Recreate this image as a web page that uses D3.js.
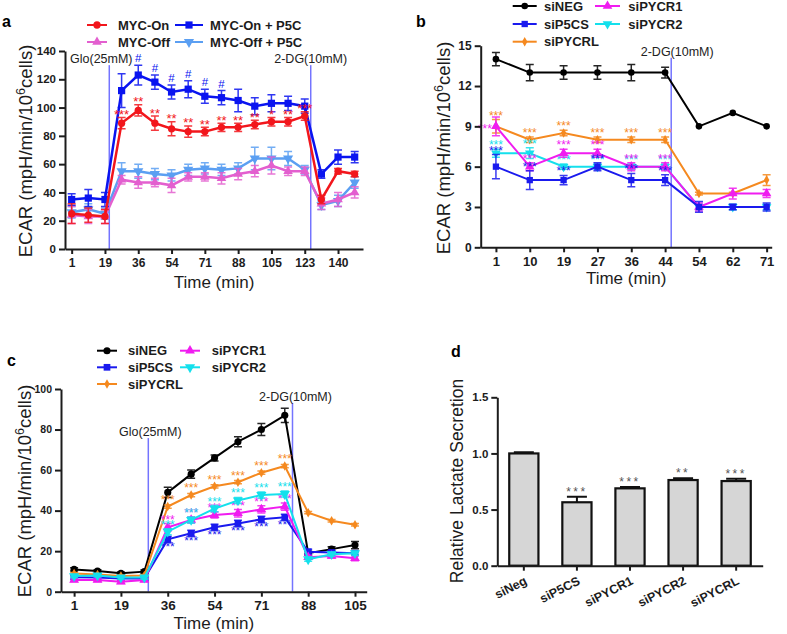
<!DOCTYPE html>
<html>
<head>
<meta charset="utf-8">
<script src="https://cdn.jsdelivr.net/npm/d3@7"></script>
<style>
  body { margin: 0; background: #fff; }
  svg { display: block; font-family: "Liberation Sans", Arial, sans-serif; }
</style>
</head>
<body>
<svg id="fig" width="787" height="634"></svg>
<script>
// ---------------- data ----------------
// panel a : ECAR, MYC on/off +/- P5C (18 time points)
var aTimeLabels = ["1", "19", "36", "54", "71", "88", "105", "123", "140"];
var aMycOn      = [25, 24, 23, 89, 98, 89, 85, 83, 83, 86, 86, 88, 90, 90, 94, 35, 55, 53];
var aMycOnErr   = [7, 5, 5, 4, 4, 5, 5, 4, 3, 3, 3, 3, 3, 3, 3, 3, 2, 2];
var aMycOnP5C   = [35, 36, 35, 112, 123, 118, 111, 113, 108, 107, 105, 101, 103, 103, 101, 53, 65, 65];
var aMycOnP5CErr= [4, 6, 5, 12, 7, 5, 5, 6, 5, 5, 8, 6, 6, 5, 5, 3, 5, 4];
var aMycOff     = [24, 23, 23, 49, 47, 47, 45, 51, 51, 50, 53, 55, 59, 55, 55, 32, 35, 40];
var aMycOffErr  = [6, 5, 5, 3, 4, 3, 5, 3, 3, 4, 4, 4, 6, 3, 3, 4, 5, 4];
var aMycOffP5C  = [26, 28, 25, 55, 55, 53, 52, 56, 57, 56, 57, 64, 64, 64, 56, 31, 34, 47];
var aMycOffP5CErr=[4, 4, 4, 6, 5, 4, 4, 4, 4, 4, 4, 8, 8, 5, 3, 3, 4, 4];
var aOnStars    = ["", "", "", "***", "**", "**", "**", "**", "**", "**", "**", "**", "*", "**", "***", "", "", ""];
var aP5CMarks   = ["", "", "", "", "#", "#", "#", "#", "#", "#", "", "", "", "", "", "", "", ""];
var aYTicks     = [0, 20, 40, 60, 80, 100, 120, 140];

// panel b : ECAR after knock-down (9 time points)
var bTimeLabels = ["1", "10", "19", "27", "36", "44", "54", "62", "71"];
var bSiNEG      = [14, 13, 13, 13, 13, 13, 9, 10, 9];
var bSiNEGErr   = [0.5, 0.6, 0.5, 0.5, 0.6, 0.4, 0, 0, 0];
var bSiP5CS     = [6, 5, 5, 6, 5, 5, 3, 3, 3];
var bSiP5CSErr  = [0.9, 0.7, 0.35, 0.3, 0.5, 0.4, 0.4, 0.2, 0.3];
var bSiPYCR1    = [9, 6, 7, 7, 6, 6, 3, 4, 4];
var bSiPYCR1Err = [0.7, 0.3, 0.3, 0.3, 0.3, 0.3, 0.3, 0.4, 0.3];
var bSiPYCR2    = [7, 7, 6, 6, 6, 6, 3, 3, 3];
var bSiPYCR2Err = [0.3, 0.4, 0.2, 0.2, 0.2, 0.2, 0.2, 0.2, 0.2];
var bSiPYCRL    = [9, 8, 8.5, 8, 8, 8, 4, 4, 5];
var bSiPYCRLErr = [0.5, 0.2, 0.2, 0.2, 0.2, 0.2, 0.1, 0.1, 0.4];
var bStars      = ["***", "***", "***", "***", "***", "***", "", "", ""];
var bYTicks     = [0, 3, 6, 9, 12, 15];

// panel c : ECAR with glucose then 2-DG (13 time points)
var cTimeLabels = ["1", "19", "36", "54", "71", "88", "105"];
var cSiNEG      = [11, 10.2, 9.1, 9.9, 49, 58, 66, 74, 80, 87, 19, 21, 23];
var cSiNEGErr   = [0.8, 0.6, 0.6, 0.8, 2.5, 2, 1.5, 2.5, 3, 3.5, 1, 1.2, 1.8];
var cSiP5CS     = [7.1, 7, 6.5, 6.5, 25.8, 28.8, 31.8, 33.7, 35.7, 36.7, 19.7, 19.3, 19];
var cSiP5CSErr  = [0.8, 0.8, 0.8, 0.8, 1.5, 1.5, 1.5, 1.5, 1.5, 1.5, 1.2, 1, 1];
var cSiPYCR1    = [5.8, 5.8, 4.9, 5.8, 31.8, 35.4, 37.8, 38.7, 40.6, 42, 17, 17.6, 16.5];
var cSiPYCR1Err = [0.8, 0.8, 0.8, 0.8, 1.8, 1.5, 1.5, 1.8, 1.8, 1.8, 1, 1, 1.2];
var cSiPYCR2    = [7.7, 8, 7, 7, 29.6, 35.4, 41, 45, 47.7, 48.2, 16, 18.5, 19];
var cSiPYCR2Err = [0.8, 0.8, 0.8, 0.8, 1.5, 1.5, 1.5, 1.5, 1.5, 1.5, 1, 1, 1];
var cSiPYCRL    = [9, 8.5, 7.8, 8, 42, 47.7, 52, 54, 58.7, 62, 39, 35, 33];
var cSiPYCRLErr = [0.5, 0.5, 0.5, 0.5, 0.8, 0.8, 0.8, 0.8, 0.8, 0.8, 0.6, 0.6, 0.6];
var cStars      = ["", "", "", "", "***", "***", "***", "***", "***", "***", "", "", ""];
var cYTicks     = [0, 20, 40, 60, 80, 100];

// panel d : relative lactate secretion
var dGroups = ["siNeg", "siP5CS", "siPYCR1", "siPYCR2", "siPYCRL"];
var dValues = [1.0, 0.565, 0.689, 0.763, 0.754];
var dErr    = [0.01, 0.05, 0.012, 0.015, 0.02];
var dStars  = ["", "***", "***", "**", "***"];
var dYTicks = [0, 0.5, 1.0, 1.5];

// ---------------- helpers ----------------
var svg = d3.select("#fig");
var INK = "#1c1c1c";
var VLINE = "#7474ff";

var shapes = {
  circle: d3.symbolCircle,
  square: d3.symbolSquare,
  triangle: d3.symbolTriangle,
  down: d3.symbolTriangle,
  diamond: d3.symbolDiamond
};

function marker(g, shape, size, color, cx, cy) {
  g.append("path")
    .attr("d", d3.symbol().type(shapes[shape]).size(size)())
    .attr("transform", "translate(" + cx + "," + cy + ")" + (shape == "down" ? " rotate(180)" : ""))
    .attr("fill", color);
}

function styleAxis(sel, fs) {
  sel.select(".domain").attr("stroke", INK).attr("stroke-width", 2);
  sel.selectAll(".tick line").attr("stroke", INK).attr("stroke-width", 2);
  sel.selectAll(".tick text")
    .attr("fill", INK)
    .style("font-size", fs + "px")
    .style("font-weight", "bold")
    .style("font-family", '"Liberation Sans", Arial, sans-serif');
}

function ecarLabel(g, x, y, fs) {
  var t = g.append("text")
    .attr("transform", "translate(" + x + "," + y + ") rotate(-90)")
    .attr("text-anchor", "middle")
    .attr("fill", INK)
    .style("font-size", fs + "px");
  t.append("tspan").text("ECAR (mpH/min/10");
  t.append("tspan").attr("dy", -fs * 0.4).style("font-size", (fs * 0.68) + "px").text("6");
  t.append("tspan").attr("dy", fs * 0.4).text("cells)");
}

function legendItem(g, x1, x2, y, color, shape, size, label, tx) {
  g.append("line").attr("x1", x1).attr("x2", x2).attr("y1", y).attr("y2", y)
    .attr("stroke", color).attr("stroke-width", 2);
  marker(g, shape, size, color, (x1 + x2) / 2, y);
  g.append("text").attr("x", tx).attr("y", y).attr("dy", "0.36em")
    .attr("fill", INK)
    .style("font-size", "13px").style("font-weight", "bold")
    .text(label);
}

function panelLetter(x, y, s) {
  svg.append("text").attr("x", x).attr("y", y)
    .attr("fill", "#000")
    .style("font-size", "16px").style("font-weight", "bold")
    .text(s);
}

// generic line panel with error bars
function linePanel(p) {
  var g = svg.append("g");
  var x = d3.scaleLinear().domain(p.xDomain).range([p.left, p.right]);
  var y = d3.scaleLinear().domain(p.yDomain).range([p.bottom, p.top]);

  // treatment lines
  p.vlines.forEach(function(v) {
    g.append("line")
      .attr("x1", x(v.at)).attr("x2", x(v.at))
      .attr("y1", y(0)).attr("y2", y(v.top))
      .attr("stroke", VLINE).attr("stroke-width", 1.5);
    g.append("text")
      .attr("x", x(v.at) + v.dx).attr("y", y(v.top) - 2)
      .attr("text-anchor", "middle")
      .attr("fill", "#222")
      .style("font-size", "12.5px")
      .text(v.label);
  });

  // series
  p.series.forEach(function(s) {
    var idx = d3.range(s.values.length);
    var line = d3.line().x(function(i) { return x(i); }).y(function(i) { return y(s.values[i]); });
    g.append("path").datum(idx)
      .attr("d", line)
      .attr("fill", "none")
      .attr("stroke", s.color)
      .attr("stroke-width", p.lineWidth);

    idx.forEach(function(i) {
      var e = s.errs[i];
      if (e > 0) {
        var y1 = y(s.values[i] - e), y2 = y(s.values[i] + e);
        g.append("path")
          .attr("d", "M" + x(i) + "," + y1 + "V" + y2 +
                     "M" + (x(i) - 4) + "," + y1 + "H" + (x(i) + 4) +
                     "M" + (x(i) - 4) + "," + y2 + "H" + (x(i) + 4))
          .attr("stroke", s.color).attr("stroke-width", 1.5).attr("fill", "none")
          .attr("opacity", 0.85);
      }
      marker(g, s.shape, s.size, s.color, x(i), y(s.values[i]));
    });

    if (s.stars) {
      idx.forEach(function(i) {
        if (!s.stars[i]) return;
        var tx = x(i), ty;
        var anchor = "middle";
        if (s.starPos == "below") {
          ty = y(s.values[i] - s.errs[i]) + s.starSize * 0.75;
        } else if (s.starPos == "left" && i == 0) {
          tx = x(i) - 4; ty = y(s.values[i]) + s.starSize * 0.55; anchor = "end";
        } else {
          ty = y(s.values[i] + s.errs[i]) - (s.starGap || 0);
        }
        g.append("text")
          .attr("x", tx).attr("y", ty)
          .attr("text-anchor", anchor)
          .attr("fill", s.starColor || s.color)
          .style("font-size", s.starSize + "px")
          .text(s.stars[i]);
      });
    }
  });

  // axes
  var yAxis = d3.axisLeft(y).tickValues(p.yTicks).tickSize(6).tickSizeOuter(0).tickPadding(3);
  var ya = g.append("g").attr("transform", "translate(" + p.left + ",0)").call(yAxis);
  styleAxis(ya, p.yTickSize);

  var xTickIdx = p.xLabels.map(function(d, i) { return i * p.tickEvery; });
  var xAxis = d3.axisBottom(x).tickValues(xTickIdx)
    .tickFormat(function(d, i) { return p.xLabels[i]; })
    .tickSize(5).tickSizeOuter(0).tickPadding(4);
  var xa = g.append("g").attr("transform", "translate(0," + p.bottom + ")").call(xAxis);
  styleAxis(xa, p.xTickSize);

  g.append("text")
    .attr("x", (p.left + p.right) / 2).attr("y", p.xLabelY)
    .attr("text-anchor", "middle").attr("fill", INK)
    .style("font-size", "17px")
    .text("Time (min)");
  ecarLabel(g, p.yLabelX, p.yLabelY, 18.5);
  return g;
}

// ---------------- panel a ----------------
var ga = linePanel({
  left: 65, right: 363, top: 51, bottom: 249,
  xDomain: [-0.4, 17.5], yDomain: [0, 140],
  yTicks: aYTicks, yTickSize: 11.5,
  xLabels: aTimeLabels, tickEvery: 2, xTickSize: 12,
  lineWidth: 2.5,
  xLabelY: 288, yLabelX: 32, yLabelY: 151,
  vlines: [
    {at: 2.26, top: 130, label: "Glo(25mM)", dx: -8},
    {at: 14.36, top: 130, label: "2-DG(10mM)", dx: 0}
  ],
  series: [
    {values: aMycOffP5C, errs: aMycOffP5CErr, color: "#5b9ff2", shape: "down", size: 45},
    {values: aMycOff, errs: aMycOffErr, color: "#e35fcf", shape: "triangle", size: 40},
    {values: aMycOnP5C, errs: aMycOnP5CErr, color: "#0a14f0", shape: "square", size: 52,
     stars: aP5CMarks, starSize: 11.5, starGap: 3},
    {values: aMycOn, errs: aMycOnErr, color: "#f2161c", shape: "circle", size: 42,
     stars: aOnStars, starSize: 13, starGap: -1.5}
  ]
});
panelLetter(2, 27, "a");
legendItem(svg, 87, 107, 25, "#f2161c", "circle", 42, "MYC-On", 118);
legendItem(svg, 175, 203, 25, "#0a14f0", "square", 52, "MYC-On + P5C", 210);
legendItem(svg, 87, 107, 42, "#e35fcf", "triangle", 40, "MYC-Off", 118);
legendItem(svg, 175, 203, 42, "#5b9ff2", "down", 45, "MYC-Off + P5C", 210);

// ---------------- panel b ----------------
linePanel({
  left: 480.7, right: 771.7, top: 45.7, bottom: 247.3,
  xDomain: [-0.45, 8.15], yDomain: [0, 15],
  yTicks: bYTicks, yTickSize: 12,
  xLabels: bTimeLabels, tickEvery: 1, xTickSize: 13,
  lineWidth: 2,
  xLabelY: 283.5, yLabelX: 450, yLabelY: 148,
  vlines: [
    {at: 5.18, top: 14.1, label: "2-DG(10mM)", dx: 6}
  ],
  series: [
    {values: bSiNEG, errs: bSiNEGErr, color: "#000000", shape: "circle", size: 34},
    {values: bSiPYCRL, errs: bSiPYCRLErr, color: "#f5891f", shape: "diamond", size: 26,
     stars: bStars, starSize: 12, starGap: 0},
    {values: bSiPYCR2, errs: bSiPYCR2Err, color: "#14e0ec", shape: "down", size: 40,
     stars: bStars, starSize: 12, starGap: 0},
    {values: bSiPYCR1, errs: bSiPYCR1Err, color: "#f01cf0", shape: "triangle", size: 40,
     stars: bStars, starSize: 12, starGap: 0, starPos: "left"},
    {values: bSiP5CS, errs: bSiP5CSErr, color: "#1a1aee", shape: "square", size: 40,
     stars: bStars, starSize: 12, starGap: 0}
  ]
});
panelLetter(416, 27, "b");
legendItem(svg, 512.7, 536.7, 6, "#000000", "circle", 34, "siNEG", 544);
legendItem(svg, 512.7, 536.7, 24, "#1a1aee", "square", 40, "siP5CS", 544);
legendItem(svg, 512.7, 536.7, 41.7, "#f5891f", "diamond", 26, "siPYCRL", 544);
legendItem(svg, 595, 620, 6, "#f01cf0", "triangle", 40, "siPYCR1", 628.3);
legendItem(svg, 595, 620, 24, "#14e0ec", "down", 40, "siPYCR2", 628.3);

// ---------------- panel c ----------------
linePanel({
  left: 61, right: 366.7, top: 389, bottom: 591.7,
  xDomain: [-0.56, 12.5], yDomain: [0, 100],
  yTicks: cYTicks, yTickSize: 10.5,
  xLabels: cTimeLabels, tickEvery: 2, xTickSize: 13.5,
  lineWidth: 2,
  xLabelY: 629, yLabelX: 31, yLabelY: 491,
  vlines: [
    {at: 3.17, top: 75.8, label: "Glo(25mM)", dx: 2},
    {at: 9.33, top: 93.1, label: "2-DG(10mM)", dx: 3}
  ],
  series: [
    {values: cSiNEG, errs: cSiNEGErr, color: "#000000", shape: "circle", size: 40},
    {values: cSiPYCRL, errs: cSiPYCRLErr, color: "#f5891f", shape: "diamond", size: 26,
     stars: cStars, starSize: 12, starGap: 1},
    {values: cSiP5CS, errs: cSiP5CSErr, color: "#1a1aee", shape: "square", size: 45,
     stars: cStars, starSize: 12, starPos: "below"},
    {values: cSiPYCR1, errs: cSiPYCR1Err, color: "#f01cf0", shape: "triangle", size: 42,
     stars: cStars, starSize: 12, starGap: 0},
    {values: cSiPYCR2, errs: cSiPYCR2Err, color: "#14e0ec", shape: "down", size: 45,
     stars: cStars, starSize: 12, starGap: 0}
  ]
});
panelLetter(7, 366, "c");
legendItem(svg, 97, 117, 350.7, "#000000", "circle", 40, "siNEG", 128);
legendItem(svg, 97, 117, 367.3, "#1a1aee", "square", 45, "siP5CS", 128);
legendItem(svg, 97, 117, 384, "#f5891f", "diamond", 26, "siPYCRL", 128);
legendItem(svg, 180, 200, 350.7, "#f01cf0", "triangle", 42, "siPYCR1", 211.7);
legendItem(svg, 180, 200, 367.3, "#14e0ec", "down", 45, "siPYCR2", 211.7);

// ---------------- panel d ----------------
(function() {
  var g = svg.append("g");
  var left = 497.3, right = 762.7, top = 397.3, bottom = 565.7;
  var x = d3.scaleBand().domain(dGroups).range([left, right])
    .paddingInner(0.45).paddingOuter(0.225);
  var y = d3.scaleLinear().domain([0, 1.5]).range([bottom, top]);

  g.selectAll("rect.bar").data(dGroups).enter().append("rect")
    .attr("class", "bar")
    .attr("x", function(d) { return x(d); })
    .attr("y", function(d, i) { return y(dValues[i]); })
    .attr("width", x.bandwidth())
    .attr("height", function(d, i) { return y(0) - y(dValues[i]); })
    .attr("fill", "#d6d6d6")
    .attr("stroke", "#111")
    .attr("stroke-width", 2.2);

  g.selectAll("path.err").data(dGroups).enter().append("path")
    .attr("class", "err")
    .attr("d", function(d, i) {
      var cx = x(d) + x.bandwidth() / 2;
      var y1 = y(dValues[i]), y2 = y(dValues[i] + dErr[i]);
      return "M" + cx + "," + y1 + "V" + y2 + "M" + (cx - 10) + "," + y2 + "H" + (cx + 10);
    })
    .attr("stroke", "#111").attr("stroke-width", 2).attr("fill", "none");

  g.selectAll("text.star").data(dGroups).enter().append("text")
    .attr("class", "star")
    .attr("x", function(d) { return x(d) + x.bandwidth() / 2; })
    .attr("y", function(d, i) { return y(dValues[i] + dErr[i]) - 1; })
    .attr("text-anchor", "middle")
    .attr("fill", "#555")
    .style("font-size", "12px")
    .style("letter-spacing", "2.5px")
    .text(function(d, i) { return dStars[i]; });

  var yAxis = d3.axisLeft(y).tickValues(dYTicks).tickFormat(d3.format(".1f"))
    .tickSize(6).tickSizeOuter(0).tickPadding(3);
  var ya = g.append("g").attr("transform", "translate(" + left + ",0)").call(yAxis);
  styleAxis(ya, 11.5);

  var xAxis = d3.axisBottom(x).tickSize(5).tickSizeOuter(0).tickPadding(4);
  var xa = g.append("g").attr("transform", "translate(0," + bottom + ")").call(xAxis);
  styleAxis(xa, 12.5);
  xa.selectAll(".tick text")
    .attr("text-anchor", "end")
    .attr("dy", "0.35em")
    .attr("transform", "translate(2,14) rotate(-27)")
    .attr("y", 0).attr("x", 0);

  g.append("text")
    .attr("transform", "translate(463,481) rotate(-90)")
    .attr("text-anchor", "middle").attr("fill", INK)
    .style("font-size", "17.5px")
    .text("Relative Lactate Secretion");
})();
panelLetter(451, 357, "d");
</script>
</body>
</html>
